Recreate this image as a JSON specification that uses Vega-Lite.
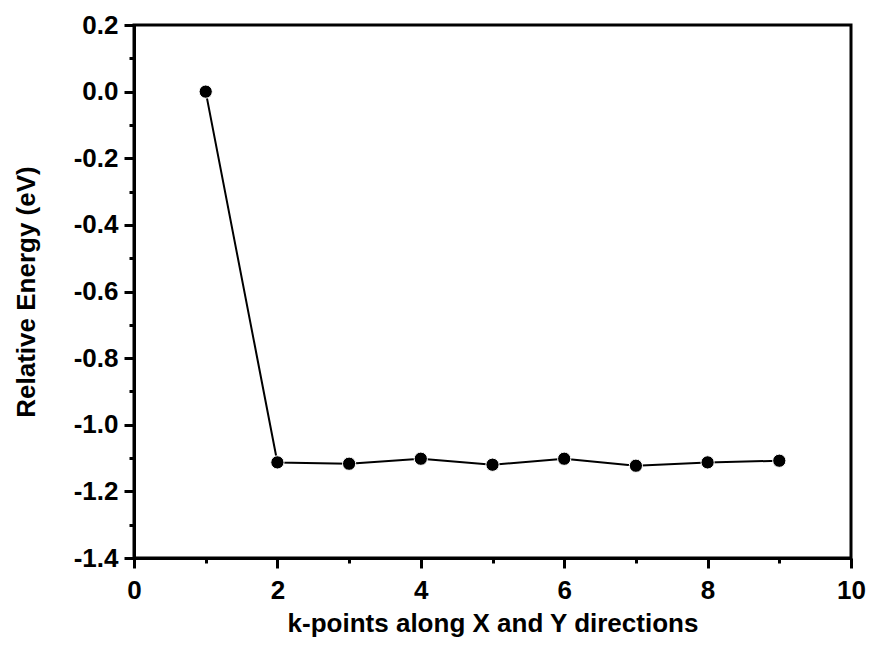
{
  "$schema": "https://vega.github.io/schema/vega-lite/v6.json",
  "autosize": "none",
  "width": 717,
  "height": 533,
  "padding": {"left": 134, "top": 25, "right": 23, "bottom": 93},
  "background": "white",
  "config": {
    "view": {"stroke": "black", "strokeWidth": 3}
  },
  "data": {"values": [
    {"k": 1, "e": 0.0},
    {"k": 2, "e": -1.113},
    {"k": 3, "e": -1.117},
    {"k": 4, "e": -1.102},
    {"k": 5, "e": -1.12},
    {"k": 6, "e": -1.102},
    {"k": 7, "e": -1.123},
    {"k": 8, "e": -1.113},
    {"k": 9, "e": -1.108}
  ]},
  "encoding": {
    "x": {"field": "k", "type": "quantitative",
      "scale": {"domain": [0, 10], "nice": false, "zero": false},
      "axis": {
        "title": "k-points along X and Y directions",
        "values": [0,1,2,3,4,5,6,7,8,9,10],
        "labelExpr": "datum.value % 2 == 0 ? datum.label : ''",
        "tickSize": {"condition": {"test": "datum.value % 2 == 0", "value": 10}, "value": 5},
        "domainColor": "black", "domainWidth": 3,
        "tickColor": "black", "tickWidth": 3, "grid": false,
        "labelFont": "Liberation Sans", "labelFontWeight": "bold", "labelFontSize": 26, "labelColor": "black",
        "titleFont": "Liberation Sans", "titleFontWeight": "bold", "titleFontSize": 26, "titleColor": "black",
        "labelPadding": 9, "titlePadding": 7, "labelFlush": false
      }},
    "y": {"field": "e", "type": "quantitative",
      "scale": {"domain": [-1.4, 0.2], "nice": false, "zero": false},
      "axis": {
        "title": "Relative Energy (eV)",
        "values": [-1.4,-1.3,-1.2,-1.1,-1.0,-0.9,-0.8,-0.7,-0.6,-0.5,-0.4,-0.3,-0.2,-0.1,0.0,0.1,0.2],
        "labelExpr": "abs(round(datum.value*10)) % 2 == 0 ? replace(format(datum.value, '.1f'), '\u2212', '-') : ''",
        "tickSize": {"condition": {"test": "abs(round(datum.value*10)) % 2 == 0", "value": 10}, "value": 5},
        "domainColor": "black", "domainWidth": 3,
        "tickColor": "black", "tickWidth": 3, "grid": false,
        "labelFont": "Liberation Sans", "labelFontWeight": "bold", "labelFontSize": 26, "labelColor": "black",
        "titleFont": "Liberation Sans", "titleFontWeight": "bold", "titleFontSize": 26, "titleColor": "black",
        "labelPadding": 6, "titlePadding": 34, "labelFlush": false
      }}
  },
  "layer": [
    {"mark": {"type": "line", "color": "black", "strokeWidth": 2}},
    {"mark": {"type": "point", "filled": true, "color": "black", "opacity": 1, "size": 175, "stroke": "white", "strokeWidth": 1}}
  ]
}
